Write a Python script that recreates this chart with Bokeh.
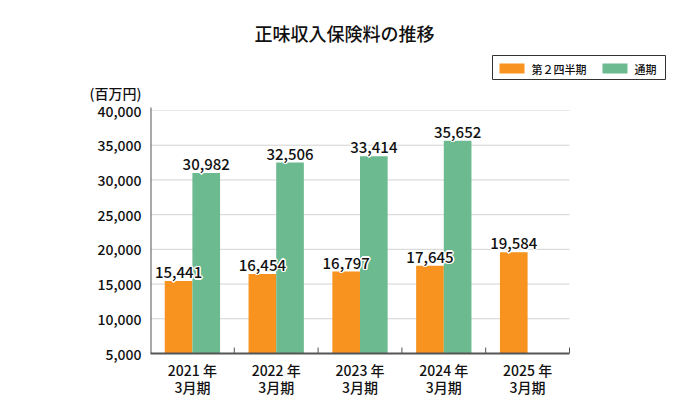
from bokeh.plotting import figure
from bokeh.models import Range1d, FixedTicker, ColumnDataSource, NumeralTickFormatter, Label
from bokeh.core.properties import value
from bokeh.embed import file_html
from bokeh.resources import INLINE

categories = ["2021 年\n3月期", "2022 年\n3月期", "2023 年\n3月期", "2024 年\n3月期", "2025 年\n3月期"]
q2_values = [15441, 16454, 16797, 17645, 19584]
full_values = [30982, 32506, 33414, 35652, None]
series_names = ["第２四半期", "通期"]
y_ticks = [5000, 10000, 15000, 20000, 25000, 30000, 35000, 40000]
title_text = "正味収入保険料の推移"
unit_text = "(百万円)"

FONT = "'Noto Sans CJK JP Medium', 'Noto Sans CJK JP'"
ORANGE = "#f7931e"
GREEN = "#6cba8f"
series_colors = [ORANGE, GREEN]
TXT = "#111111"

# layout in pixels: plotted area 150..569 x 110..353 (40,000 .. 5,000); frame extended so that
# title and legend (which sit above the chart) are drawn inside the frame
FL, FR, FT, FB = 150, 685, 8, 353
CAT_PX = (569 - 150) / len(categories)
Y0, Y1 = y_ticks[0], y_ticks[-1]
UNITS_PER_PX = (Y1 - Y0) / (353 - 110)
def y_at(py):
    return Y0 + (FB - py) * UNITS_PER_PX
def x_at(px):
    return (px - FL) / CAT_PX

n = len(categories)
p = figure(width=690, height=400, x_range=Range1d(0, x_at(FR)), y_range=Range1d(Y0, y_at(FT)),
           output_backend="svg", toolbar_location=None, title_location=None,
           min_border_left=FL, min_border_right=690 - FR, min_border_top=FT, min_border_bottom=400 - FB)
p.outline_line_color = None
p.xgrid.grid_line_color = None
p.ygrid.grid_line_color = None

idx = list(range(n))
q2_x = [i + 0.5 - 0.165 for i in idx]
src_q2 = ColumnDataSource(dict(x=q2_x, y=q2_values, t=[f"{v:,}" for v in q2_values]))
full_x = [i + 0.5 + 0.165 for i, v in zip(idx, full_values) if v is not None]
full_y = [v for v in full_values if v is not None]
src_full = ColumnDataSource(dict(x=full_x, y=full_y, t=[f"{v:,}" for v in full_y]))

# horizontal grid lines across the category area
g = y_ticks[1:]
p.segment(x0=[0] * len(g), x1=[n] * len(g), y0=g, y1=g,
          line_color=["#d3d3d3"] * (len(g) - 1) + ["#e6e6e6"], line_width=1)

p.vbar(x="x", top="y", bottom=Y0, width=0.33, source=src_q2, color=ORANGE, line_color=None)
p.vbar(x="x", top="y", bottom=Y0, width=0.33, source=src_full, color=GREEN, line_color=None)

# value labels with a white halo
for src in (src_q2, src_full):
    for dx, dy in [(-1.5, 0), (1.5, 0), (0, -1.5), (0, 1.5), (-1, -1), (1, 1), (-1, 1), (1, -1)]:
        p.text(x="x", y="y", text="t", source=src, text_align="center", text_baseline="bottom",
               x_offset=dx, y_offset=-3 + dy, text_font=value(FONT), text_font_size="15px",
               text_color="white")
    p.text(x="x", y="y", text="t", source=src, text_align="center", text_baseline="bottom",
           y_offset=-3, text_font=value(FONT), text_font_size="15px", text_color=TXT)

# y axis line (only over the value range) and small category-boundary ticks on the x axis
p.segment(x0=[0], x1=[0], y0=[Y0], y1=[Y1 + 3 * UNITS_PER_PX], line_color="#555555", line_width=2)
p.segment(x0=list(range(1, n + 1)), x1=list(range(1, n + 1)), y0=[Y0] * n,
          y1=[Y0 + 6 * UNITS_PER_PX] * n, line_color="#555555", line_width=1)

# legend: frame, colour swatches and series names
p.quad(left=[x_at(492)], right=[x_at(665)], top=[y_at(55)], bottom=[y_at(79)],
       fill_color="white", line_color="#333333", line_width=1)
sw_left = [499, 602]
p.quad(left=[x_at(v) for v in sw_left], right=[x_at(v + 25) for v in sw_left],
       top=[y_at(63)] * 2, bottom=[y_at(73)] * 2, fill_color=series_colors, line_color=None)
p.text(x=[x_at(v + 32) for v in sw_left], y=[y_at(68)] * 2, text=series_names,
       text_align="left", text_baseline="middle", text_font=value(FONT),
       text_font_size="11px", text_font_style="bold", text_color=TXT)

unit_tick = 42500
p.yaxis.ticker = FixedTicker(ticks=y_ticks + [unit_tick])
p.yaxis.formatter = NumeralTickFormatter(format="0,0")
p.yaxis.major_label_overrides = {unit_tick: unit_text}
p.yaxis.major_tick_line_color = None
p.yaxis.minor_tick_line_color = None
p.yaxis.axis_line_color = None
p.yaxis.major_label_text_font = FONT
p.yaxis.major_label_text_font_size = "14px"
p.yaxis.major_label_text_color = TXT
p.yaxis.major_label_standoff = 3

x_ticks = [i + 0.5 for i in idx]
p.xaxis.ticker = FixedTicker(ticks=x_ticks)
p.xaxis.major_label_overrides = {t: c for t, c in zip(x_ticks, categories)}
p.xaxis.bounds = (0, n)
p.xaxis.major_tick_line_color = None
p.xaxis.minor_tick_line_color = None
p.xaxis.axis_line_color = "#555555"
p.xaxis.axis_line_width = 2
p.xaxis.major_label_text_font = FONT
p.xaxis.major_label_text_font_size = "14px"
p.xaxis.major_label_text_color = TXT
p.xaxis.major_label_standoff = 0
p.xaxis.major_label_text_line_height = 0.89

p.add_layout(Label(x=x_at(344), y=y_at(32), text=title_text, text_align="center",
                   text_baseline="middle", text_font=FONT, text_font_size="18px",
                   text_font_style="bold", text_color=TXT))

open("out.html", "w").write(file_html(p, INLINE))
